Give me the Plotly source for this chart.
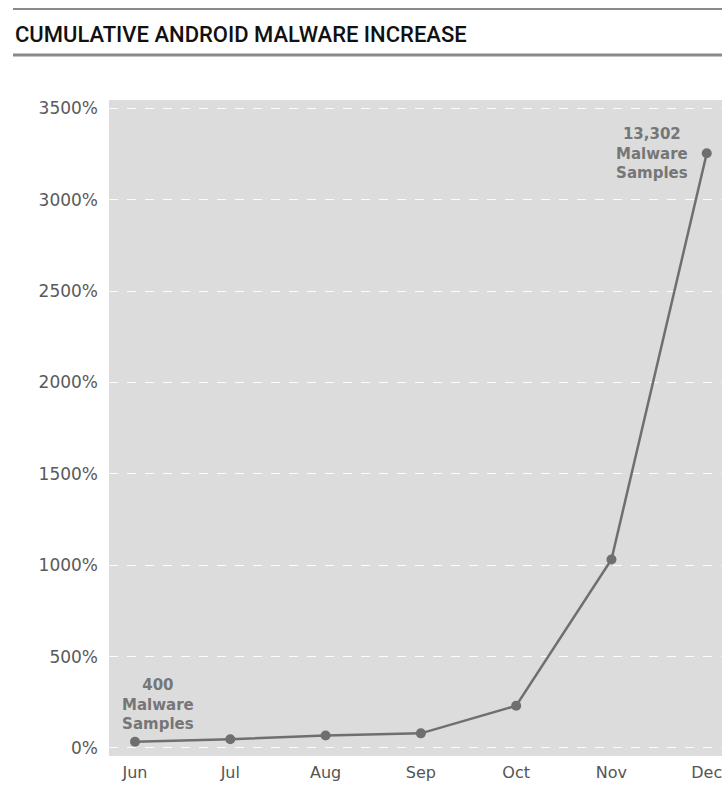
import plotly.graph_objects as go

months = ["Jun", "Jul", "Aug", "Sep", "Oct", "Nov", "Dec"]
increase_pct = [34, 48, 68, 80, 231, 1031, 3254]
y_ticks = [0, 500, 1000, 1500, 2000, 2500, 3000, 3500]
y_tick_labels = [f"{v}%" for v in y_ticks]
note_months = ["Jun", "Dec"]
note_texts = ["400<br>Malware<br>Samples", "13,302<br>Malware<br>Samples"]

W, H = 722, 785
L, R, T, B = 109, 0, 100, 29
ph = H - T - B
pw = W - L - R


def py(y):  # pixel y -> paper y
    return (H - B - y) / ph


def px(x):
    return (x - L) / pw


fig = go.Figure()
xs = list(range(len(months)))
fig.add_trace(go.Scatter(
    x=xs, y=increase_pct, mode="lines+markers",
    line=dict(color="#6f6f6f", width=2.5),
    marker=dict(color="#6f6f6f", size=10),
    hoverinfo="skip", showlegend=False,
))

note_font = dict(family="DejaVu Sans", size=15, color="#767676", weight="bold")
fig.add_annotation(x=months.index(note_months[0]) + 0.24, y=increase_pct[0], yshift=37,
                   text=note_texts[0], showarrow=False, xanchor="center", yanchor="middle",
                   font=note_font, align="center")
fig.add_annotation(x=months.index(note_months[1]) - 0.57, y=increase_pct[-1], yshift=0,
                   text=note_texts[1], showarrow=False, xanchor="center", yanchor="middle",
                   font=note_font, align="center")

# title and rules
fig.add_annotation(xref="paper", yref="paper", x=px(13), y=py(34), xanchor="left", yanchor="middle",
                   text="CUMULATIVE ANDROID MALWARE INCREASE", showarrow=False,
                   font=dict(family="Roboto", size=22, color="#111111", weight=500))
fig.add_shape(type="line", xref="paper", yref="paper", x0=px(13), x1=px(722), y0=py(9), y1=py(9),
              line=dict(color="#8a8a8a", width=2))
fig.add_shape(type="line", xref="paper", yref="paper", x0=px(13), x1=px(722), y0=py(55), y1=py(55),
              line=dict(color="#8a8a8a", width=3))

fig.update_layout(
    width=W, height=H,
    margin=dict(l=L, r=R, t=T, b=B, pad=0),
    paper_bgcolor="white", plot_bgcolor="#dcdcdc",
    font=dict(family="DejaVu Sans", color="#555555"),
    xaxis=dict(tickmode="array", tickvals=xs, ticktext=months, range=[-0.273, 6.16],
               showgrid=False, zeroline=False, showline=False, ticks="",
               ticklabeloverflow="allow", ticklabelstandoff=5,
               tickfont=dict(size=16, color="#555555"), fixedrange=True),
    yaxis=dict(tickmode="array", tickvals=y_ticks, ticktext=y_tick_labels, range=[-44, 3545],
               showgrid=True, gridcolor="rgba(255,255,255,0.9)", griddash="dash", gridwidth=1,
               zeroline=False, showline=False, ticks="", ticklabelstandoff=10,
               tickfont=dict(size=17, color="#5a5a5a"), fixedrange=True),
)

fig.write_html("out.html")
